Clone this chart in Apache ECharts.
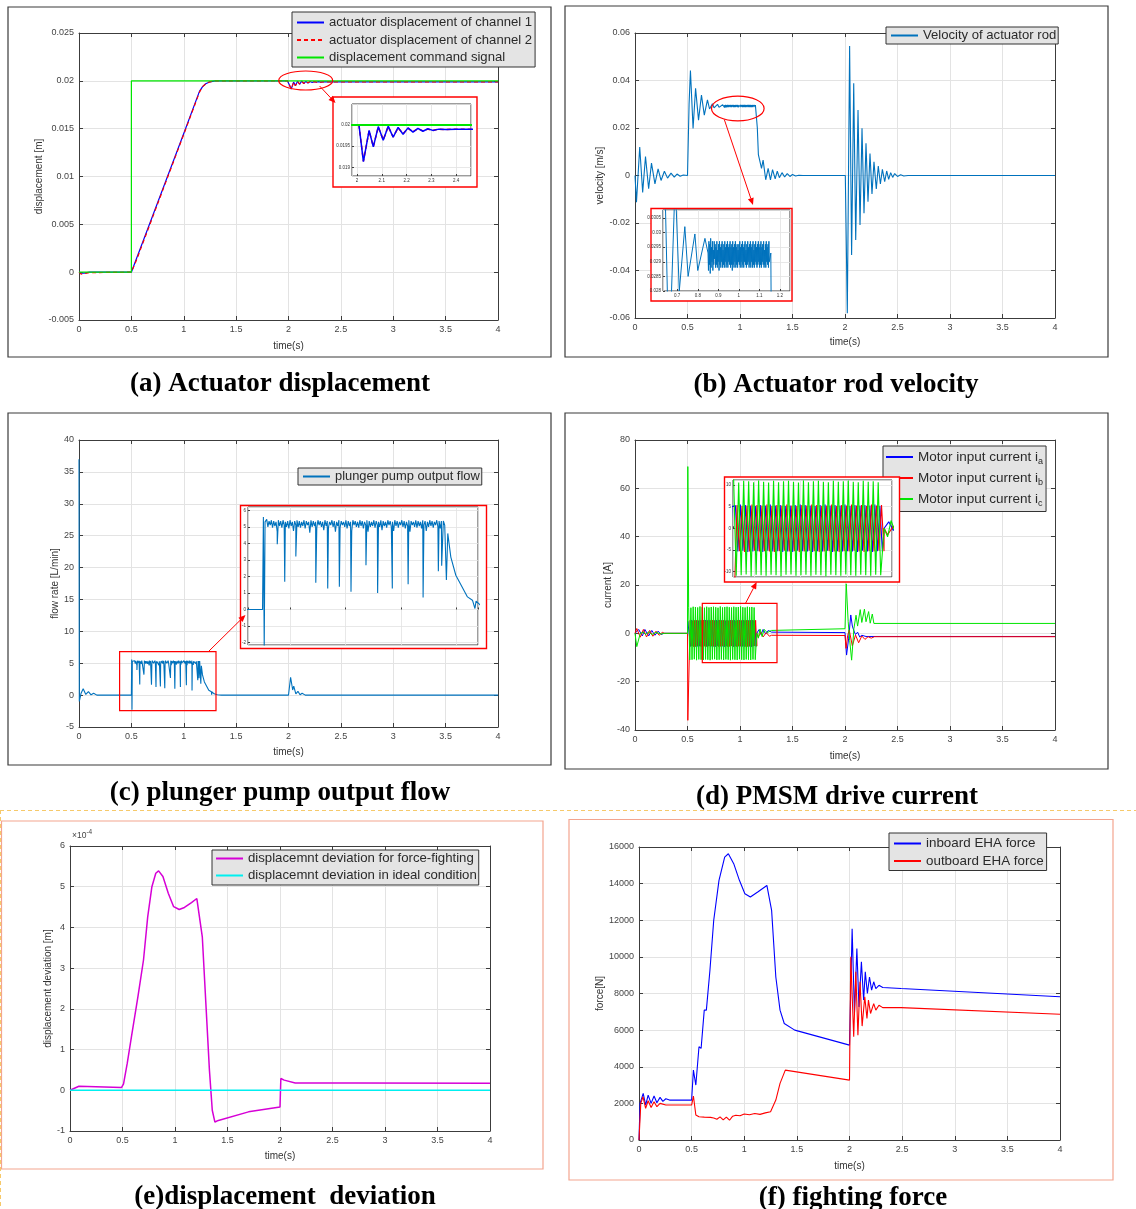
<!DOCTYPE html>
<html><head><meta charset="utf-8">
<script src="https://cdn.jsdelivr.net/npm/echarts@6/dist/echarts.min.js"></script>
<style>html,body{margin:0;padding:0;background:#fff}#c{width:1136px;height:1209px}</style>
</head><body><div id="c"></div><script>
// ---------- (a) actuator displacement ----------
const cmdT = [0, 0.5, 0.5, 4];
const cmdV = [0, 0, 0.02, 0.02];
const ch1T = [0, 0.02, 0.05, 0.1, 0.5, 0.55, 1.0, 1.15, 1.18, 1.21, 1.25, 1.3, 1.99, 2.008, 2.026, 2.049, 2.066, 2.086, 2.106, 2.126, 2.146, 2.166, 2.186, 2.206, 2.226, 2.246, 2.266, 2.286, 2.306, 2.33, 2.36, 2.4, 4];
const ch1V = [0, -0.0001, -0.0001, 0, 0, 0.00145, 0.0145, 0.0189, 0.0194, 0.0197, 0.0199, 0.02, 0.02, 0.02, 0.019138, 0.01987, 0.019484, 0.01996, 0.01964, 0.01997, 0.01971, 0.01994, 0.01978, 0.01993, 0.01983, 0.01992, 0.01985, 0.01991, 0.01987, 0.0199, 0.01989, 0.0199, 0.0199];
const ch2V = [0, -0.0002, -0.00015, -0.00005, 0, 0.0013, 0.0144, 0.0188, 0.0194, 0.0197, 0.0199, 0.02, 0.02, 0.02, 0.01915, 0.01986, 0.01949, 0.01995, 0.01965, 0.01996, 0.01972, 0.01993, 0.01979, 0.01992, 0.01984, 0.01991, 0.01986, 0.0199, 0.01987, 0.0199, 0.01989, 0.0199, 0.0199];

// ---------- (b) actuator rod velocity ----------
const velHeadT = [0, 0.014, 0.045, 0.073, 0.10, 0.13, 0.157, 0.19, 0.22, 0.248, 0.28, 0.31, 0.343, 0.374, 0.40, 0.43, 0.46, 0.5, 0.515, 0.528, 0.553, 0.577, 0.605, 0.633, 0.66, 0.69, 0.71, 0.737, 0.753, 0.786, 0.80, 0.835];
const velHeadV = [0, -0.0113, 0.012, -0.0071, 0.008, -0.0056, 0.0052, -0.0035, 0.0028, -0.0021, 0.0018, -0.0011, 0.001, -0.0007, 0.0006, -0.0003, 0.0002, 0, 0.03, 0.0442, 0.0198, 0.0367, 0.0233, 0.0339, 0.0254, 0.0318, 0.0280, 0.0302, 0.0285, 0.02995, 0.0287, 0.0298];
const velNoiseStart = 0.85, velNoiseStep = 0.00215;
const velNoiseV = [
  0.0293,0.0287,0.0297,0.0289,0.0296,0.0286,0.0298,0.0288,0.0295,0.0290,
  0.0297,0.0287,0.0294,0.0289,0.0297,0.0291,0.0296,0.0288,0.0295,0.0289,
  0.0297,0.0288,0.0294,0.0290,0.0296,0.0287,0.0297,0.0289,0.0295,0.0288,
  0.0296,0.0290,0.0297,0.0288,0.0294,0.0289,0.0296,0.0288,0.0297,0.0290,
  0.0295,0.0288,0.0296,0.0289,0.0297,0.0288,0.0295,0.0290,0.0296,0.0289,
  0.0297,0.0288,0.0295,0.0289,0.0296,0.0287,0.0297,0.0289,0.0295,0.0288,
  0.0296,0.0290,0.0297,0.0288,0.0295,0.0289,0.0296,0.0288,0.0294,0.0290,
  0.0296,0.0289,0.0297,0.0288,0.0295,0.0290,0.0296,0.0288,0.0297,0.0289,
  0.0295,0.0288,0.0296,0.0290,0.0297,0.0289,0.0294,0.0288,0.0296,0.0289,
  0.0297,0.0290,0.0295,0.0288,0.0296,0.0289,0.0297,0.0288,0.0295,0.0290,
  0.0296,0.0288,0.0297,0.0289,0.0294,0.0288,0.0296,0.0290,0.0297,0.0289,
  0.0295,0.0288,0.0296,0.0289,0.0297,0.0290,0.0295,0.0288,0.0296,0.0289,
  0.0297,0.0288,0.0295,0.0290,0.0296,0.0289,0.0297,0.0288,0.0294,0.0289,
  0.0296,0.0288,0.0297,0.0290,0.0295,0.0289,0.0296,0.0288,0.0297,0.0290];
const velTailT = [1.156, 1.165, 1.175, 1.19, 1.205, 1.22, 1.245, 1.268, 1.29, 1.31, 1.335, 1.355, 1.375, 1.4, 1.425, 1.45, 1.475, 1.5, 1.53, 1.56, 1.6, 2.003, 2.022, 2.044, 2.063, 2.083, 2.102, 2.124, 2.143, 2.162, 2.181, 2.2, 2.219, 2.238, 2.257, 2.276, 2.298, 2.317, 2.337, 2.356, 2.378, 2.397, 2.416, 2.435, 2.454, 2.473, 2.5, 2.53, 2.56, 2.6, 4];
const velTailV = [0.0293, 0.02, 0.0088, 0.0095, 0.003, 0.0065, -0.0018, 0.003, -0.0018, 0.0025, -0.0014, 0.0018, -0.0009, 0.0012, -0.0006, 0.0008, -0.0004, 0.0004, -0.0002, 0.0001, 0, 0, -0.058, 0.0545, -0.0335, 0.0388, -0.0272, 0.0276, -0.0208, 0.0199, -0.0159, 0.0136, -0.011, 0.0093, -0.0078, 0.0058, -0.0057, 0.004, -0.0036, 0.0026, -0.0026, 0.0019, -0.0016, 0.0012, -0.0008, 0.0008, -0.0004, 0.0003, -0.0002, 0, 0];

// ---------- (c) plunger pump output flow ----------
const flowHeadT = [0, 0.003, 0.02, 0.04, 0.065, 0.09, 0.115, 0.14, 0.17, 0.5, 0.503, 0.506, 0.509];
const flowHeadV = [37, -1, 0.3, 1.0, 0.1, 0.55, 0.05, 0.3, 0, 0, 5.6, -2.3, 5.3];
const flowRippleStart = 0.515, flowRippleStep = 0.0042;
const flowRippleV = [
  5.45,5.0,5.35,5.1,5.4,4.95,5.35,5.05,5.3,4.7,
  5.4,5.05,5.35,4.95,5.4,5.1,5.3,5.0,5.35,4.9,
  5.4,5.05,5.3,4.75,5.35,5.1,5.4,5.0,5.35,4.95,
  5.3,5.05,5.4,4.9,5.35,5.1,5.3,4.65,5.4,5.0,
  5.35,5.05,5.3,4.95,5.4,5.1,5.35,5.0,5.3,4.8,
  5.4,5.05,5.35,4.95,5.3,5.1,5.4,5.0,5.35,4.7,
  5.3,5.05,5.4,4.95,5.35,5.1,5.3,5.0,5.4,4.9,
  5.35,5.05,5.3,4.75,5.4,5.1,5.35,5.0,5.3,4.95,
  5.4,5.05,5.35,4.9,5.3,5.1,5.4,4.7,5.35,5.0,
  5.3,5.05,5.4,4.95,5.35,5.1,5.3,5.0,5.4,4.8,
  5.35,5.05,5.3,4.95,5.4,5.1,5.35,5.0,5.3,4.75,
  5.4,5.05,5.35,4.95,5.3,5.1,5.4,5.0,5.35,4.9,
  5.3,5.05,5.4,4.7,5.35,5.1,5.3,5.0,5.4,4.95,
  5.35,5.05,5.3,4.9,5.4,5.1,5.35,4.75,5.3,5.0,
  5.4,5.05,5.35,4.95,5.3,5.1,5.4,5.0,5.35,4.9,
  5.35];
const flowSpikeT = [0.553, 0.58, 0.62, 0.692, 0.735, 0.777, 0.819, 0.873, 0.915, 0.968, 1.025, 1.079, 1.134, 1.146];
const flowSpikeV = [3.95, 1.67, 3.2, 1.62, 1.27, 1.37, 1.07, 2.68, 1.0, 1.27, 1.53, 0.73, 2.32, 2.64];
const flowTailT = [1.152, 1.157, 1.163, 1.168, 1.179, 1.197, 1.239, 1.257, 1.264, 1.266, 1.27, 1.29, 1.32, 1.36, 2.0, 2.02, 2.04, 2.05, 2.07, 2.09, 2.11, 2.13, 2.16, 2.25, 4];
const flowTailV = [5.35, 5.1, 1.78, 4.6, 3.17, 2.07, 0.76, 0.56, 0.52, 0.06, 0.5, 0.2, 0.05, 0, 0, 2.8, 0.8, 1.4, 0.2, 0.6, 0.05, 0.3, 0, 0, 0];

// ---------- (d) PMSM drive current ----------
const iaPreT = [0, 0.035, 0.07, 0.094, 0.13, 0.16, 0.19, 0.22, 0.25, 0.27, 0.5, 0.503];
const iaPreV = [0, 1.6, -1.1, 1.6, -1.1, 1.2, -0.8, 0.9, -0.5, 0, 0, 5];
const ibPreT = [0, 0.017, 0.05, 0.08, 0.11, 0.14, 0.17, 0.2, 0.23, 0.26, 0.28, 0.5, 0.503];
const ibPreV = [0, 2, -1.6, 1.6, -1.5, 1.2, -1.2, 0.9, -0.8, 0.4, 0, 0, -36];
const icPreT = [0, 0.017, 0.05, 0.08, 0.1, 0.13, 0.16, 0.2, 0.25, 0.28, 0.5, 0.503];
const icPreV = [0, -5.5, 0, 0.5, -0.5, 0.6, -0.5, 0.4, -0.3, 0, 0, 69];
const curOscStart = 0.511, curOscHalf = 0.01075, curShiftA = 0.0072, curShiftB = 0.0143;
const icOsc = [10.8,-11.0,10.6,-10.9,11.0,-10.7,10.9,-11.1,10.7,-10.8, 11.1,-10.9,10.8,-11.0,10.6,-10.8,11.0,-10.9,10.7,-11.1,
  10.9,-10.8,11.0,-10.7,10.8,-11.0,10.6,-10.9,11.1,-10.8, 10.7,-11.0,10.9,-10.8,11.0,-10.9,10.8,-11.1,10.7,-10.8,
  11.0,-10.9,10.8,-11.0,10.9,-10.7,11.1,-10.9,10.8,-11.0, 10.7,-10.8,11.0,-10.9,10.8,-11.0,10.9,-10.8,10.7,-10.9];
const iaOsc = [5.3,-5.4,5.5,-5.2,5.4,-5.5,5.3,-5.4,5.2,-5.3, 5.4,-5.5,5.3,-5.2,5.5,-5.4,5.3,-5.3,5.4,-5.5,
  5.2,-5.4,5.3,-5.5,5.4,-5.2,5.5,-5.3,5.4,-5.4, 5.3,-5.5,5.2,-5.3,5.4,-5.4,5.5,-5.2,5.3,-5.5,
  5.4,-5.3,5.3,-5.4,5.5,-5.3,5.2,-5.4,5.4,-5.5, 5.3,-5.2,5.4,-5.4,5.3,-5.5,5.5,-5.3,5.2,-5.4];
const ibOsc = [5.4,-5.3,5.2,-5.5,5.3,-5.4,5.5,-5.2,5.4,-5.4, 5.3,-5.3,5.5,-5.4,5.2,-5.5,5.4,-5.3,5.3,-5.2,
  5.5,-5.4,5.3,-5.3,5.2,-5.5,5.4,-5.4,5.3,-5.2, 5.5,-5.3,5.4,-5.5,5.2,-5.4,5.3,-5.3,5.5,-5.4,
  5.2,-5.5,5.4,-5.3,5.3,-5.4,5.5,-5.2,5.3,-5.4, 5.4,-5.5,5.2,-5.3,5.5,-5.4,5.3,-5.2,5.4,-5.3];
const icPostT = [1.16, 1.175, 1.19, 1.21, 1.23, 1.26, 1.3, 2.0, 2.012, 2.03, 2.045, 2.063, 2.085, 2.105, 2.12, 2.145, 2.16, 2.185, 2.2, 2.225, 2.24, 2.26, 2.275, 4];
const icPostV = [0, -2, 1.8, -1.3, 1.6, 0.3, 1.2, 1.9, 20.5, 5, -3, -11.1, 2, 7.5, 3, 9.8, 4.5, 10, 4.8, 9, 4.2, 8, 4.1, 4.1];
const iaPostT = [1.16, 1.18, 1.2, 1.22, 1.245, 1.27, 1.3, 2.0, 2.015, 2.035, 2.055, 2.07, 2.085, 2.1, 2.12, 2.14, 2.16, 2.2, 4];
const iaPostV = [0, 1.5, -0.5, 1.6, -0.3, 1.2, 0.5, 0.3, -9, -2, 7.6, 3, 1, -0.5, 0.5, -1.5, -0.8, -1.3, -1.3];
const ibPostT = [1.16, 1.175, 1.2, 1.22, 1.25, 1.28, 1.3, 2.0, 2.01, 2.025, 2.04, 2.07, 2.1, 2.13, 2.16, 2.19, 2.22, 2.25, 2.28, 4];
const ibPostV = [0, -1.5, 0.5, -1.5, 0.3, -1.2, -0.8, -0.9, -6.2, -1, 1.4, -5.2, -0.7, -3.9, -1.1, -2.5, -1.4, -2, -1.4, -1.4];

// ---------- (e) displacement deviation (x 1e-4 m) ----------
const devT = [0, 0.017, 0.085, 0.49, 0.51, 0.545, 0.585, 0.647, 0.70, 0.74, 0.78, 0.817, 0.844, 0.885, 0.936, 0.987, 1.04, 1.09, 1.157, 1.208, 1.225, 1.26, 1.294, 1.328, 1.355, 1.38, 1.413, 1.70, 2.0, 2.008, 2.04, 2.145, 2.72, 4];
const devV = [0, 0.016, 0.1, 0.066, 0.16, 0.66, 1.31, 2.3, 3.2, 4.26, 5.0, 5.33, 5.39, 5.25, 4.84, 4.51, 4.44, 4.49, 4.61, 4.71, 4.69, 3.77, 2.13, 0.49, -0.49, -0.78, -0.74, -0.53, -0.41, 0.29, 0.25, 0.18, 0.18, 0.17];
const idealT = [0, 4];
const idealV = [0, 0];

// ---------- (f) fighting force ----------
const inT = [0, 0.01, 0.04, 0.063, 0.087, 0.115, 0.143, 0.17, 0.2, 0.227, 0.255, 0.29, 0.5, 0.517, 0.54, 0.57, 0.59, 0.62, 0.64, 0.674, 0.71, 0.76, 0.814, 0.849, 0.9, 0.954, 1.006, 1.058, 1.128, 1.215, 1.233, 1.26, 1.3, 1.34, 1.38, 1.48, 2.0, 2.025, 2.047, 2.07, 2.09, 2.113, 2.134, 2.15, 2.17, 2.19, 2.21, 2.23, 2.25, 2.28, 2.316, 2.49, 4];
const inV = [0, 2000, 2545, 1910, 2454, 2000, 2400, 2036, 2327, 2109, 2254, 2180, 2180, 3818, 3000, 5090, 5000, 7090, 7090, 9270, 12000, 14180, 15450, 15630, 15090, 14180, 13450, 13270, 13545, 13900, 13820, 12540, 8900, 7090, 6360, 6000, 5180, 11540, 6910, 10450, 7270, 9730, 7640, 9180, 8000, 8900, 8180, 8640, 8270, 8450, 8330, 8270, 7820];
const outT = [0, 0.017, 0.038, 0.063, 0.087, 0.115, 0.143, 0.17, 0.2, 0.255, 0.5, 0.517, 0.54, 0.57, 0.62, 0.68, 0.71, 0.74, 0.77, 0.8, 0.83, 0.86, 0.89, 0.92, 0.96, 1.0, 1.05, 1.1, 1.15, 1.2, 1.25, 1.3, 1.34, 1.39, 2.0, 2.012, 2.04, 2.06, 2.08, 2.1, 2.12, 2.145, 2.166, 2.18, 2.2, 2.23, 2.25, 2.28, 2.316, 2.49, 4];
const outV = [0, 2000, 2360, 1727, 2145, 1780, 2090, 1818, 2000, 1909, 1909, 2400, 1364, 1270, 1250, 1236, 1200, 1130, 1260, 1100, 1250, 1080, 1300, 1350, 1320, 1420, 1380, 1450, 1400, 1480, 1545, 2180, 3090, 3818, 3270, 10000, 5640, 9180, 5727, 8640, 6220, 7820, 6640, 7640, 6910, 7450, 7090, 7360, 7230, 7230, 6870];

// ---------- text ----------
const captions = ['(a) Actuator displacement', '(b) Actuator rod velocity', '(c) plunger pump output flow', '(d) PMSM drive current', '(e)displacement  deviation', '(f) fighting force'];

// ================= build =================
const FONT = '"Liberation Sans", Arial, sans-serif';
const AX = '#3c3c3c', GRID = '#e3e3e3', LAB = '#444', TXT = '#333', RED = '#ff0000';
const xy = (T, V) => T.map((t, i) => [t, V[i]]);
const seq = (start, step, V) => V.map((v, i) => [start + i * step, v]);
const fmt = v => String(Number(Number(v).toPrecision(8)));

const velData = xy(velHeadT, velHeadV).concat(seq(velNoiseStart, velNoiseStep, velNoiseV), xy(velTailT, velTailV));
const plateau = seq(flowRippleStart, flowRippleStep, flowRippleV).concat(xy(flowSpikeT, flowSpikeV)).sort((p, q) => p[0] - q[0]);
const flowData = xy(flowHeadT, flowHeadV).concat(plateau, xy(flowTailT, flowTailV));
const iaData = xy(iaPreT, iaPreV).concat(seq(curOscStart + curShiftA, curOscHalf, iaOsc), xy(iaPostT, iaPostV));
const ibData = xy(ibPreT, ibPreV).concat(seq(curOscStart + curShiftB, curOscHalf, ibOsc), xy(ibPostT, ibPostV));
const icData = xy(icPreT, icPreV).concat(seq(curOscStart, curOscHalf, icOsc), xy(icPostT, icPostV));

const G = {
  a: {left: 79, top: 33, width: 419, height: 287},
  b: {left: 635, top: 33, width: 420, height: 285},
  c: {left: 79, top: 440, width: 419, height: 287},
  d: {left: 635, top: 440, width: 420, height: 290},
  e: {left: 70, top: 846, width: 420, height: 285},
  f: {left: 639, top: 847, width: 421, height: 293},
  ai: {left: 352, top: 104, width: 119, height: 72},
  bi: {left: 663, top: 210, width: 127, height: 81},
  ci: {left: 248, top: 507, width: 230, height: 138},
  di: {left: 733, top: 480, width: 159, height: 97}
};

const grids = [], xs = [], ys = [], series = [];
function addMain(key, xr, yr, yname, ygap, xgap) {
  const gi = grids.length;
  grids.push(Object.assign({show: false, outerBoundsMode: 'none'}, G[key]));
  const base = () => ({gridIndex: gi, type: 'value', z: 1,
    axisLine: {show: true, onZero: false, lineStyle: {color: AX, width: 1}},
    axisTick: {show: true, inside: true, length: 4, lineStyle: {color: AX}}});
  const lab = {fontSize: 9, color: LAB, margin: 5, fontFamily: FONT, formatter: fmt};
  const nts = {fontSize: 10, color: TXT, fontFamily: FONT};
  xs.push(Object.assign(base(), {min: xr[0], max: xr[1], interval: xr[2], position: 'bottom', name: 'time(s)', nameLocation: 'middle', nameGap: xgap, nameTextStyle: nts, axisLabel: lab, splitLine: {show: true, lineStyle: {color: GRID}}}));
  xs.push(Object.assign(base(), {min: xr[0], max: xr[1], interval: xr[2], position: 'top', axisLabel: {show: false}, splitLine: {show: false}}));
  ys.push(Object.assign(base(), {min: yr[0], max: yr[1], interval: yr[2], position: 'left', name: yname, nameLocation: 'middle', nameRotate: 90, nameGap: ygap, nameTextStyle: nts, axisLabel: lab, splitLine: {show: true, lineStyle: {color: GRID}}}));
  ys.push(Object.assign(base(), {min: yr[0], max: yr[1], interval: yr[2], position: 'right', axisLabel: {show: false}, splitLine: {show: false}}));
  return {xi: xs.length - 2, yi: ys.length - 2, z: 2};
}
function addInset(key, xr, yr, o) {
  const gi = grids.length;
  grids.push(Object.assign({show: true, backgroundColor: '#fff', borderColor: '#3a3a3a', borderWidth: 1, z: 5, outerBoundsMode: 'none'}, G[key]));
  const tick = {show: true, inside: true, length: 2, lineStyle: {color: AX}};
  const sl = {show: true, lineStyle: {color: '#e2e2e2', width: 0.8}};
  xs.push({gridIndex: gi, type: 'value', min: xr[0], max: xr[1], splitNumber: o.xn, z: 6, axisLine: {show: false},
    axisTick: tick, splitLine: sl,
    axisLabel: {show: !!o.xl, fontSize: 4.5, color: '#333', margin: 2, showMinLabel: false, showMaxLabel: false, fontFamily: FONT, formatter: fmt}});
  ys.push({gridIndex: gi, type: 'value', min: yr[0], max: yr[1], splitNumber: o.yn, z: 6, axisLine: {show: false},
    axisTick: tick, splitLine: sl,
    axisLabel: {show: true, fontSize: 4.5, color: '#333', margin: 2, showMinLabel: !!o.ymin, showMaxLabel: false, fontFamily: FONT, formatter: fmt}});
  return {xi: xs.length - 1, yi: ys.length - 1, z: 7};
}
function line(ax, name, data, color, width, extra) {
  series.push(Object.assign({type: 'line', name, data, xAxisIndex: ax.xi, yAxisIndex: ax.yi,
    showSymbol: false, symbol: 'none', silent: true, clip: true, z: ax.z,
    lineStyle: {color, width}, itemStyle: {color}}, extra || {}));
}

const BLUE = '#0000ff', MRED = '#ff0000', GREEN = '#00e600', MB = '#0072bd';
// (a)
const A = addMain('a', [0, 4, 0.5], [-0.005, 0.025, 0.005], 'displacement [m]', 34, 21);
line(A, 'actuator displacement of channel 1', xy(ch1T, ch1V), BLUE, 1.2);
line(A, 'actuator displacement of channel 2', xy(ch1T, ch2V), MRED, 1.2, {lineStyle: {color: MRED, width: 1.2, type: [4, 3]}});
line(A, 'displacement command signal', xy(cmdT, cmdV), GREEN, 1.2);
// (b)
const B = addMain('b', [0, 4, 0.5], [-0.06, 0.06, 0.02], 'velocity [m/s]', 28, 19);
line(B, 'Velocity of actuator rod', velData, MB, 1.1);
// (c)
const C = addMain('c', [0, 4, 0.5], [-5, 40, 5], 'flow rate [L/min]', 19, 20);
line(C, 'plunger pump output flow', flowData, MB, 1.1);
// (d)
const D = addMain('d', [0, 4, 0.5], [-40, 80, 20], 'current [A]', 21, 21);
line(D, 'Motor input current ia', iaData, BLUE, 1);
line(D, 'Motor input current ib', ibData, MRED, 1);
line(D, 'Motor input current ic', icData, GREEN, 1);
// (e)
const E = addMain('e', [0, 4, 0.5], [-1, 6, 1], 'displacement deviation [m]', 15, 20);
line(E, 'displacemnt deviation for force-fighting', xy(devT, devV), '#d600d6', 1.5);
line(E, 'displacemnt deviation in ideal condition', xy(idealT, idealV), '#00f0f0', 1.5);
// (f)
const F = addMain('f', [0, 4, 0.5], [0, 16000, 2000], 'force[N]', 33, 21);
line(F, 'inboard EHA force', xy(inT, inV), BLUE, 1.1);
line(F, 'outboard EHA force', xy(outT, outV), MRED, 1.1);

// insets
const AI = addInset('ai', [1.98, 2.46], [0.0188, 0.02049], {xn: 5, yn: 4, xl: true});
line(AI, 'a-in-ch2', xy(ch1T, ch2V), MRED, 1.5, {lineStyle: {color: MRED, width: 1.5, type: [4, 3]}});
line(AI, 'a-in-ch1', xy(ch1T, ch1V), BLUE, 1.5);
line(AI, 'a-in-cmd', xy(cmdT, cmdV), GREEN, 2);
const BI = addInset('bi', [0.6306, 1.2495], [0.028, 0.03077], {xn: 6, yn: 6, xl: true, ymin: true});
line(BI, 'b-in-vel', velData, MB, 1);
const CI = addInset('ci', [0.4475, 1.277], [-2.15, 6.2], {xn: 4, yn: 8});
line(CI, 'c-in-flow', flowData, MB, 1.1);
const DI = addInset('di', [0.508, 1.194], [-11.3, 11.2], {xn: 4, yn: 5});
line(DI, 'd-in-ia', iaData, BLUE, 1.1);
line(DI, 'd-in-ib', ibData, MRED, 1.1);
line(DI, 'd-in-ic', icData, GREEN, 1.1);

// legends
const legBase = (o) => Object.assign({orient: 'vertical', itemWidth: 27, itemHeight: 14, itemGap: 4.5, backgroundColor: '#e4e4e4',
  borderColor: '#333', borderWidth: 1, borderRadius: 0, padding: [4, 3, 3, 4], selectedMode: false, z: 3,
  itemStyle: {opacity: 0},
  textStyle: {fontSize: 13.1, color: '#2a2a2a', fontFamily: FONT}}, o);
const legends = [
  legBase({left: 292, top: 12, data: ['actuator displacement of channel 1', 'actuator displacement of channel 2', 'displacement command signal']}),
  legBase({left: 886, top: 27, padding: [2, 2, 2, 4], textStyle: {fontSize: 13.1, color: '#2a2a2a', fontFamily: FONT}, data: ['Velocity of actuator rod']}),
  legBase({left: 298, top: 468, padding: [2, 2, 2, 4], textStyle: {fontSize: 12.9, color: '#2a2a2a', fontFamily: FONT}, data: ['plunger pump output flow']}),
  legBase({left: 883, top: 446, itemHeight: 20, itemGap: 3.5, padding: [3, 3, 3, 2], data: ['Motor input current ia', 'Motor input current ib', 'Motor input current ic'],
    formatter: n => '{m|Motor input current i}{s|' + n.slice(-1) + '}',
    textStyle: {color: '#2a2a2a', fontFamily: FONT, rich: {m: {fontSize: 13.5, fontFamily: FONT, color: '#2a2a2a'}, s: {fontSize: 9, fontFamily: FONT, color: '#2a2a2a', padding: [10, 0, 0, 0]}}}}),
  legBase({left: 212, top: 850, itemGap: 4, padding: [2, 2, 3, 3], textStyle: {fontSize: 13.2, color: '#2a2a2a', fontFamily: FONT}, data: ['displacemnt deviation for force-fighting', 'displacemnt deviation in ideal condition']}),
  legBase({left: 889, top: 833, textStyle: {fontSize: 13.4, color: '#2a2a2a', fontFamily: FONT}, data: ['inboard EHA force', 'outboard EHA force']})
];

// graphics
const els = [];
const frame = (x, y, w, h, c) => els.push({type: 'rect', shape: {x, y, width: w, height: h}, style: {fill: 'none', stroke: c, lineWidth: 1.2}, z: 1, silent: true});
frame(8, 7, 543, 350, '#3a3a3a');
frame(565, 6, 543, 351, '#3a3a3a');
frame(8, 413, 543, 352, '#3a3a3a');
frame(565, 413, 543, 356, '#3a3a3a');
frame(1.5, 821, 541.5, 348, '#f3a58f');
frame(569, 819.5, 544, 360.5, '#f3a58f');
els.push({type: 'line', shape: {x1: 0, y1: 810.5, x2: 1136, y2: 810.5}, style: {stroke: '#f6c96a', lineWidth: 1, lineDash: [4, 3]}, z: 1, silent: true});
els.push({type: 'line', shape: {x1: 0.5, y1: 810, x2: 0.5, y2: 1209}, style: {stroke: '#f6c96a', lineWidth: 1, lineDash: [4, 3]}, z: 1, silent: true});
const ibox = (x, y, w, h) => els.push({type: 'rect', shape: {x, y, width: w, height: h}, style: {fill: '#fff', stroke: RED, lineWidth: 1.4}, z: 4, silent: true});
ibox(333, 97, 144, 90);
ibox(651, 208.5, 141, 92.5);
ibox(240.5, 505.5, 246, 143);
ibox(724.5, 477, 175, 105);
const sbox = (x, y, w, h) => els.push({type: 'rect', shape: {x, y, width: w, height: h}, style: {fill: 'none', stroke: RED, lineWidth: 1.2}, z: 8, silent: true});
sbox(119.6, 651.7, 96.4, 59);
sbox(702.3, 603.3, 74.7, 59.4);
els.push({type: 'ellipse', shape: {cx: 305.7, cy: 80.5, rx: 27, ry: 9.5}, style: {fill: 'none', stroke: RED, lineWidth: 1.2}, z: 8, silent: true});
els.push({type: 'ellipse', shape: {cx: 737.8, cy: 108.5, rx: 26.3, ry: 12.3}, style: {fill: 'none', stroke: RED, lineWidth: 1.2}, z: 8, silent: true});
function arrow(x1, y1, x2, y2) {
  const a = Math.atan2(y2 - y1, x2 - x1), L = 7, W = 3;
  const bx = x2 - L * Math.cos(a), by = y2 - L * Math.sin(a);
  const px = -Math.sin(a) * W, py = Math.cos(a) * W;
  els.push({type: 'line', shape: {x1, y1, x2: bx, y2: by}, style: {stroke: RED, lineWidth: 1}, z: 8, silent: true});
  els.push({type: 'polygon', shape: {points: [[x2, y2], [bx + px, by + py], [bx - px, by - py]]}, style: {fill: RED}, z: 8, silent: true});
}
arrow(319.6, 86, 335.5, 103);
arrow(724.3, 119.5, 753, 205);
arrow(209, 651, 245.5, 615);
arrow(745.7, 603, 756.7, 582);
const capPos = [[280, 384], [836, 385], [280, 793], [837, 797], [285, 1197], [853, 1198]];
captions.forEach((t, i) => els.push({type: 'text', x: capPos[i][0], y: capPos[i][1], z: 1, silent: true,
  style: {text: t, fill: '#000', font: 'bold 27px "Liberation Serif", "Times New Roman", serif', align: 'center', verticalAlign: 'middle', textAlign: 'center', textVerticalAlign: 'middle'}}));
els.push({type: 'text', x: 72, y: 842, z: 3, silent: true,
  style: {text: '{a|×10}{b|-4}', align: 'left', verticalAlign: 'bottom', textAlign: 'left', textVerticalAlign: 'bottom',
    rich: {a: {fontSize: 8.5, fill: '#444', fontFamily: FONT}, b: {fontSize: 6.5, fill: '#444', fontFamily: FONT, padding: [0, 0, 6, 0]}}}});

const chart = echarts.init(document.getElementById('c'), null, {renderer: 'canvas', width: 1136, height: 1209});
chart.setOption({
  animation: false,
  backgroundColor: '#fff',
  grid: grids, xAxis: xs, yAxis: ys, series, legend: legends,
  graphic: {elements: els}
});
</script></body></html>
